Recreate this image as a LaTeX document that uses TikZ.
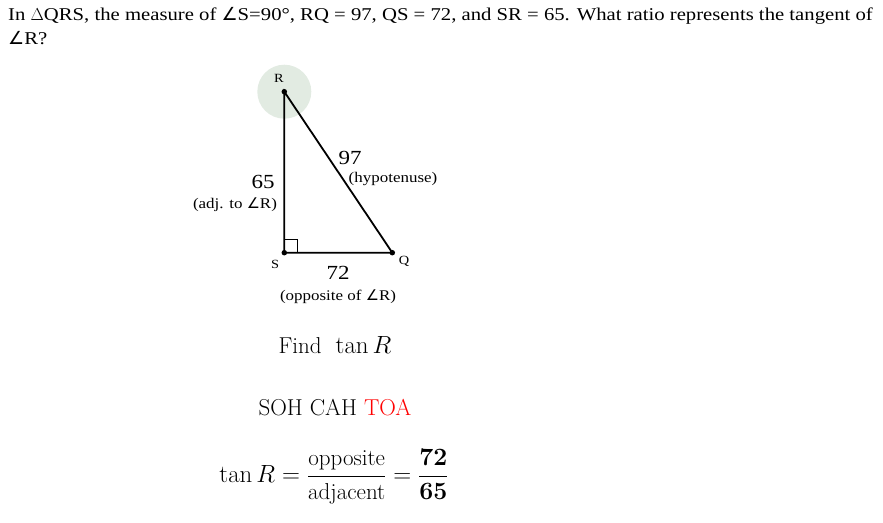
\documentclass[tikz,border=0pt]{standalone}
\usepackage[no-math]{fontspec}
\setmainfont[FakeStretch=1.15]{Liberation Serif}
\newfontfamily\lmr{Latin Modern Roman}
\newfontfamily\symfont{DejaVu Sans}
\usepackage{amsmath}
\newcommand{\ang}{{\symfont ∠}}
\begin{document}
\begin{tikzpicture}[x=1pt,y=-1pt,
  toptext/.style={anchor=base west,inner sep=0pt,font=\fontsize{18}{21}\selectfont},
  vlabel/.style={inner sep=0pt,font=\fontsize{12.5}{14}\selectfont},
  numlabel/.style={inner sep=0pt,font=\fontsize{20}{23}\selectfont},
  desclabel/.style={inner sep=0pt,font=\fontsize{14.75}{17}\selectfont},
  mathtext/.style={inner sep=0pt,font=\lmr\fontsize{23}{27}\selectfont},
  side/.style={line width=1.8pt},
  dot/.style={circle,fill=black,inner sep=0pt,minimum size=5.5pt}]
\useasboundingbox (0,0) rectangle (883,522);
\node[toptext] (t1) at (8,20) {In $\Delta$QRS, the measure of \ang S=90°, RQ = 97, QS = 72, and SR = 65. What ratio represents the tangent of};
\node[toptext] (t2) at (8,44) {\ang R?};
% triangle
\fill[fill={rgb,255:red,226;green,235;blue,226}] (284.3,91.7) circle (27);
\node[dot] (R) at (284.3,91.7) {};
\node[dot] (S) at (284.3,252.7) {};
\node[dot] (Q) at (392.3,252.7) {};
\draw[side] (R.center) -- (S.center) -- (Q.center) -- cycle;
\draw[line width=1.2pt] (284.3,239.7) -- (297.3,239.7) -- (297.3,252.7);
\node[vlabel] (lR) at (279,78) {R};
\node[vlabel] (lS) at (275,264) {S};
\node[vlabel] (lQ) at (404,261) {Q};
\node[numlabel] (n97) at (350,158) {97};
\node[desclabel] (h) at (393,179) {(hypotenuse)};
\node[numlabel] (n65) at (263,182) {65};
\node[desclabel] (adj) at (235,205) {(adj. to \ang R)};
\node[numlabel] (n72) at (338,273) {72};
\node[desclabel] (opp) at (338,297) {(opposite of \ang R)};
% bottom
\node[mathtext] (find) at (335,345) {Find\ \ $\tan R$};
\node[mathtext] (soh) at (335,408) {SOH CAH \textcolor{red}{TOA}};
\node[mathtext] (eq) at (334,477) {$\tan R=\dfrac{\text{opposite}}{\text{adjacent}}=\dfrac{\mathbf{72}}{\mathbf{65}}$};
\end{tikzpicture}
\end{document}
